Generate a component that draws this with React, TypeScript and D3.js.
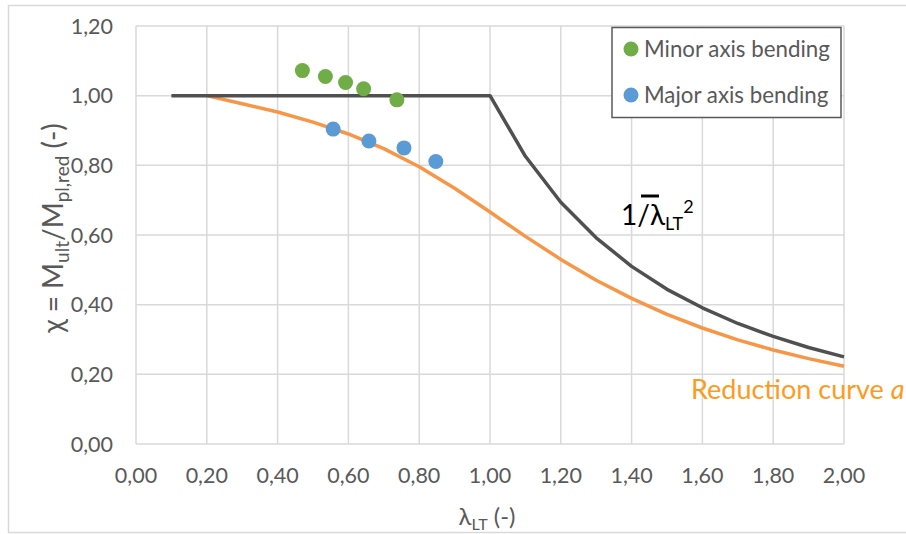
import React from 'react';
import * as d3 from 'd3';

const minorX = [0.47, 0.535, 0.592, 0.643, 0.737];
const minorY = [1.072, 1.055, 1.038, 1.02, 0.988];
const majorX = [0.557, 0.658, 0.757, 0.847];
const majorY = [0.904, 0.87, 0.85, 0.811];
const elasticX = [0.1, 0.2, 0.3, 0.4, 0.5, 0.6, 0.7, 0.8, 0.9, 1.0, 1.1, 1.2, 1.3, 1.4, 1.5, 1.6, 1.7, 1.8, 1.9, 2.0];
const elasticY = [1, 1, 1, 1, 1, 1, 1, 1, 1, 1, 0.826, 0.694, 0.592, 0.51, 0.444, 0.391, 0.346, 0.309, 0.277, 0.25];
const curveAX = [0.2, 0.3, 0.4, 0.5, 0.6, 0.7, 0.8, 0.9, 1.0, 1.1, 1.2, 1.3, 1.4, 1.5, 1.6, 1.7, 1.8, 1.9, 2.0];
const curveAY = [1.0, 0.977, 0.953, 0.924, 0.89, 0.848, 0.796, 0.734, 0.666, 0.596, 0.53, 0.47, 0.418, 0.372, 0.333, 0.299, 0.27, 0.245, 0.223];
const xTicks = [0, 0.2, 0.4, 0.6, 0.8, 1.0, 1.2, 1.4, 1.6, 1.8, 2.0];
const yTicks = [0, 0.2, 0.4, 0.6, 0.8, 1.0, 1.2];
const legendLabels = ['Minor axis bending', 'Major axis bending'];

const FONT = 'Lato, "Open Sans", sans-serif';
const GRID = '#D9D9D9';
const TEXT = '#595959';
const GREEN = '#70AD47';
const BLUE = '#5B9BD5';
const DARK = '#505050';
const ORANGE = '#F79646';

export default function App() {
  const x = d3.scaleLinear().domain([0, 2]).range([136, 844]);
  const y = d3.scaleLinear().domain([0, 1.2]).range([444, 26]);
  const fmt = (v: number) => d3.format('.2f')(v).replace('.', ',');
  const line = d3.line<[number, number]>().x(d => x(d[0])).y(d => y(d[1]));
  const elastic = line(elasticX.map((v, i) => [v, elasticY[i]] as [number, number])) || '';
  const curveA = line(curveAX.map((v, i) => [v, curveAY[i]] as [number, number])) || '';

  return (
    <svg width={906} height={534} style={{ position: 'absolute', left: 0, top: 0, background: '#fff' }} fontFamily={FONT}>
      <rect x={8.5} y={5.5} width={910} height={527} fill="#fff" stroke={GRID} strokeWidth={1.5} />
      {xTicks.map(t => (
        <line key={'gx' + t} x1={x(t)} x2={x(t)} y1={y(1.2)} y2={y(0)} stroke={GRID} strokeWidth={1.5} />
      ))}
      {yTicks.map(t => (
        <line key={'gy' + t} x1={x(0)} x2={x(2)} y1={y(t)} y2={y(t)} stroke={GRID} strokeWidth={1.5} />
      ))}
      {xTicks.map(t => (
        <text key={'tx' + t} x={x(t)} y={483} textAnchor="middle" fontSize={21.5} fill={TEXT}>{fmt(t)}</text>
      ))}
      {yTicks.map(t => (
        <text key={'ty' + t} x={113} y={y(t) + 7.5} textAnchor="end" fontSize={21.5} fill={TEXT}>{fmt(t)}</text>
      ))}
      <path d={curveA} fill="none" stroke={ORANGE} strokeWidth={3.5} strokeLinejoin="round" />
      <path d={elastic} fill="none" stroke={DARK} strokeWidth={3.5} strokeLinejoin="round" />
      {minorX.map((v, i) => (
        <circle key={'g' + i} cx={x(v)} cy={y(minorY[i])} r={7.5} fill={GREEN} />
      ))}
      {majorX.map((v, i) => (
        <circle key={'b' + i} cx={x(v)} cy={y(majorY[i])} r={7.5} fill={BLUE} />
      ))}
      <g>
        <rect x={612} y={27.5} width={229} height={90} fill="#fff" stroke={TEXT} strokeWidth={1.5} />
        {legendLabels.map((l, i) => (
          <g key={l}>
            <circle cx={631} cy={49 + i * 46} r={7.5} fill={i === 0 ? GREEN : BLUE} />
            <text x={644} y={57 + i * 46} fontSize={22.3} fill={TEXT}>{l}</text>
          </g>
        ))}
      </g>
      <text x={621} y={225} fontSize={28} fill="#000">
        1/
        <tspan>λ</tspan>
        <tspan fontSize={18} dy={5}>LT</tspan>
        <tspan fontSize={18} dy={-17}>2</tspan>
      </text>
      <line x1={641} x2={659} y1={196} y2={196} stroke="#000" strokeWidth={3} />
      <text x={691} y={399} fontSize={27} fill="#FF9A1F">
        Reduction curve <tspan fontStyle="italic">a</tspan>
      </text>
      <text x={487} y={525} textAnchor="middle" fontSize={24} fill={TEXT}>
        λ<tspan fontSize={16} dy={5}>LT</tspan><tspan dy={-5}> (-)</tspan>
      </text>
      <text transform="translate(63,228) rotate(-90)" textAnchor="middle" fontSize={28} fill={TEXT}>
        χ = M<tspan fontSize={19} dy={6}>ult</tspan><tspan dy={-6}>/M</tspan><tspan fontSize={19} dy={6}>pl,red</tspan><tspan dy={-6}> (-)</tspan>
      </text>
    </svg>
  );
}
